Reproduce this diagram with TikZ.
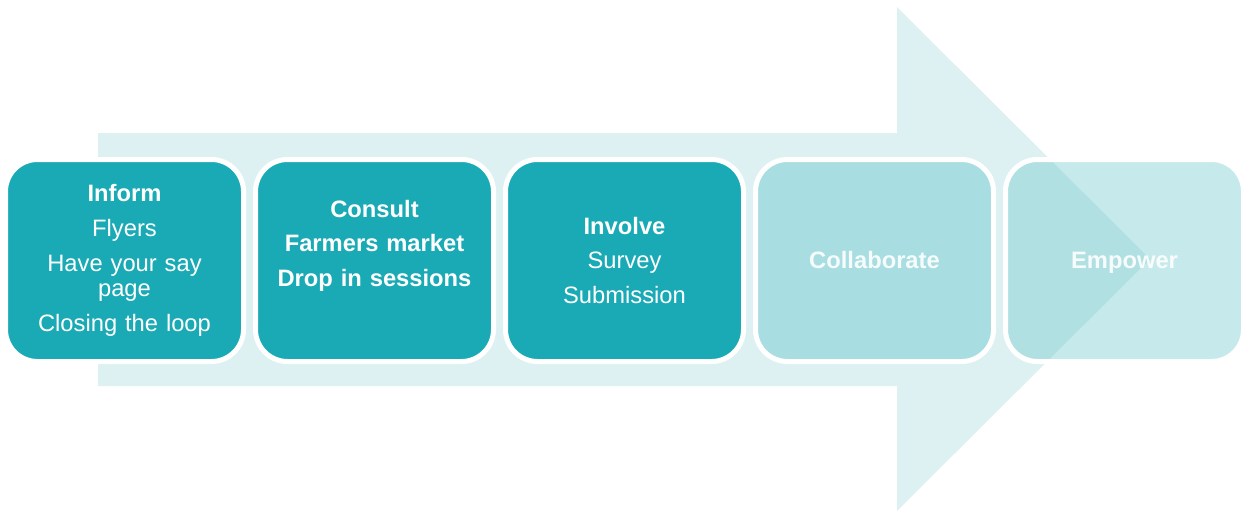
\documentclass[tikz,border=0pt]{standalone}
\usepackage{fontspec}
\setmainfont{Liberation Sans}
\usepackage{tikz}
\usetikzlibrary{positioning}
\definecolor{tealdk}{HTML}{1AAAB5}
\definecolor{arrowbg}{HTML}{DDF1F2}
\definecolor{teallt}{HTML}{A8DEE1}
\definecolor{tealfade}{RGB}{112,200,205}

\begin{document}
\begin{tikzpicture}[
            x=0.75pt, y=-0.75pt,
            node distance=9pt,
            stage/.style={draw=white, line width=3.75pt, rounded corners=24pt,
                minimum width=178.5pt, minimum height=151.5pt, inner sep=0pt, outer sep=0pt,
                align=center, text width=160pt, text=white,
                font=\fontsize{17.8}{19}\selectfont}
        ]
            \useasboundingbox (0,0) rectangle (1241,510);
            \fill [arrowbg] (98,133) -- (897,133) -- (897,7) -- (1150,259)
                -- (897,511) -- (897,386) -- (98,386) -- cycle;

            \node [stage, fill=tealdk] (inform) at (124.5,260.5)
                {\textbf{Inform}\\[7pt] Flyers\\[7pt] Have your say\\ page\\[7pt] Closing the loop};
            \node [stage, fill=tealdk, right=of inform] (consult)
                {\bfseries Consult\\[7pt] Farmers market\\[7pt] Drop in sessions\\[7pt] \mbox{}};
            \node [stage, fill=tealdk, right=of consult] (involve)
                {\textbf{Involve}\\[7pt] Survey\\[7pt] Submission};
            \node [stage, fill=teallt, text opacity=0.9, right=of involve] (collaborate)
                {\textbf{Collaborate}};
            \node [stage, fill=tealfade, fill opacity=0.4, text opacity=0.9, text depth=0pt, right=of collaborate] (empower)
                {\textbf{Empower}};
        \end{tikzpicture}
\end{document}
